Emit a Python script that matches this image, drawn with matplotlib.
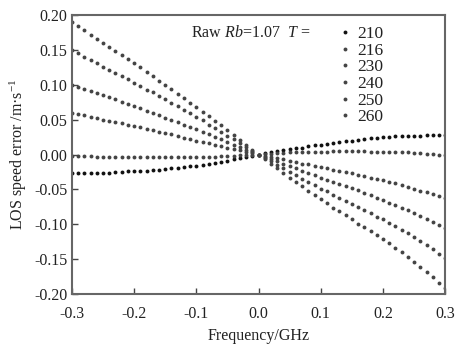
import numpy as np
import matplotlib
matplotlib.use("Agg")
import matplotlib.pyplot as plt
from matplotlib.ticker import FormatStrFormatter

plt.rcParams['font.family'] = ['Liberation Serif', 'DejaVu Serif']
plt.rcParams['mathtext.fontset'] = 'custom'
plt.rcParams['mathtext.rm'] = 'Liberation Serif'
plt.rcParams['mathtext.it'] = 'Liberation Serif:italic'
plt.rcParams['axes.unicode_minus'] = False

# frequency grid, -0.30 ... 0.30 GHz in 0.01 steps
freq = np.linspace(-0.3, 0.3, 61)

temps = ['210', '216', '230', '240', '250', '260']

err_210 = [-0.027, -0.027, -0.027, -0.027, -0.026, -0.026, -0.026, -0.025, -0.025, -0.024,
           -0.024, -0.023, -0.023, -0.022, -0.022, -0.021, -0.020, -0.019, -0.018, -0.017,
           -0.016, -0.015, -0.013, -0.012, -0.011, -0.009, -0.007, -0.005, -0.004, -0.002,
           0.000,
           0.002, 0.003, 0.005, 0.006, 0.008, 0.009, 0.010, 0.012, 0.013, 0.014,
           0.015, 0.017, 0.018, 0.019, 0.020, 0.021, 0.022, 0.023, 0.024, 0.025,
           0.025, 0.026, 0.026, 0.027, 0.027, 0.027, 0.028, 0.028, 0.028, 0.028]

err_216 = [-0.002, -0.002, -0.002, -0.002, -0.003, -0.003, -0.003, -0.003, -0.003, -0.003,
           -0.003, -0.003, -0.003, -0.003, -0.003, -0.003, -0.003, -0.003, -0.003, -0.003,
           -0.003, -0.003, -0.003, -0.003, -0.002, -0.002, -0.002, -0.001, -0.001, -0.001,
           0.000,
           0.001, 0.001, 0.002, 0.002, 0.003, 0.003, 0.003, 0.004, 0.004, 0.004,
           0.004, 0.005, 0.005, 0.005, 0.005, 0.005, 0.005, 0.004, 0.004, 0.004,
           0.004, 0.003, 0.003, 0.003, 0.002, 0.002, 0.001, 0.001, 0.000, -0.001]

err_230 = [0.060, 0.058, 0.056, 0.054, 0.052, 0.050, 0.048, 0.046, 0.045, 0.043,
           0.041, 0.039, 0.037, 0.035, 0.033, 0.031, 0.029, 0.027, 0.024, 0.022,
           0.020, 0.018, 0.016, 0.014, 0.012, 0.010, 0.008, 0.006, 0.004, 0.002,
           0.000,
           -0.002, -0.004, -0.005, -0.007, -0.009, -0.011, -0.013, -0.014, -0.016, -0.018,
           -0.020, -0.022, -0.023, -0.025, -0.027, -0.029, -0.031, -0.033, -0.035, -0.037,
           -0.039, -0.041, -0.044, -0.046, -0.049, -0.052, -0.054, -0.057, -0.060, -0.063]

err_240 = [0.100, 0.097, 0.094, 0.091, 0.088, 0.085, 0.082, 0.079, 0.075, 0.072,
           0.069, 0.066, 0.063, 0.059, 0.056, 0.053, 0.050, 0.046, 0.043, 0.039,
           0.036, 0.032, 0.029, 0.025, 0.022, 0.018, 0.014, 0.011, 0.007, 0.004,
           0.000,
           -0.003, -0.007, -0.010, -0.014, -0.017, -0.020, -0.023, -0.027, -0.030, -0.033,
           -0.036, -0.039, -0.042, -0.045, -0.048, -0.051, -0.055, -0.058, -0.062, -0.065,
           -0.069, -0.072, -0.076, -0.080, -0.084, -0.088, -0.092, -0.097, -0.101, -0.106]

err_250 = [0.150, 0.145, 0.140, 0.136, 0.131, 0.126, 0.121, 0.117, 0.112, 0.108,
           0.103, 0.098, 0.093, 0.089, 0.084, 0.079, 0.074, 0.069, 0.064, 0.059,
           0.054, 0.049, 0.043, 0.038, 0.032, 0.027, 0.022, 0.016, 0.011, 0.005,
           0.000,
           -0.005, -0.010, -0.015, -0.020, -0.025, -0.030, -0.035, -0.040, -0.044, -0.049,
           -0.053, -0.058, -0.062, -0.067, -0.071, -0.075, -0.080, -0.084, -0.089, -0.093,
           -0.098, -0.103, -0.108, -0.113, -0.118, -0.124, -0.130, -0.136, -0.142, -0.148]

err_260 = [0.190, 0.184, 0.178, 0.172, 0.166, 0.160, 0.154, 0.148, 0.143, 0.137,
           0.131, 0.125, 0.119, 0.112, 0.106, 0.100, 0.094, 0.087, 0.081, 0.074,
           0.068, 0.061, 0.055, 0.048, 0.042, 0.035, 0.028, 0.021, 0.014, 0.007,
           0.000,
           -0.007, -0.013, -0.020, -0.026, -0.033, -0.039, -0.045, -0.052, -0.058, -0.064,
           -0.070, -0.076, -0.081, -0.087, -0.093, -0.099, -0.104, -0.110, -0.115, -0.121,
           -0.127, -0.134, -0.140, -0.147, -0.154, -0.161, -0.169, -0.176, -0.184, -0.192]

series = [err_210, err_216, err_230, err_240, err_250, err_260]
colors = ['#111111', '#444444', '#444444', '#444444', '#444444', '#444444']

fig = plt.figure(figsize=(4.58, 3.5), dpi=100)
ax = fig.add_axes([0.157, 0.16, 0.815, 0.797])

for t, vals, c in zip(temps, series, colors):
    ax.plot(freq, vals, linestyle='none', marker='o', markersize=2.8,
            markeredgewidth=0, color=c, label=t)

ax.set_xlim(-0.3, 0.3)
ax.set_ylim(-0.2, 0.2)
ax.set_xticks([-0.3, -0.2, -0.1, 0.0, 0.1, 0.2, 0.3])
ax.set_yticks([-0.20, -0.15, -0.10, -0.05, 0.00, 0.05, 0.10, 0.15, 0.20])
ax.xaxis.set_major_formatter(FormatStrFormatter('%.1f'))
ax.yaxis.set_major_formatter(FormatStrFormatter('%.2f'))
ax.tick_params(direction='in', length=4, width=1, colors='#444444',
               labelcolor='#222222', labelsize=11.5)
ax.tick_params(axis='x', pad=9)
ax.tick_params(axis='y', pad=3)
for s in ax.spines.values():
    s.set_color('#666666')
    s.set_linewidth(1.5)

ax.set_xlabel('Frequency/GHz', fontsize=11.5, color='#222222', labelpad=4)
ax.set_ylabel('LOS speed error /m·s$^{-1}$', fontsize=11.5, color='#222222', labelpad=4)

ax.text(0.32, 0.935, r'Raw $\mathit{Rb}$=1.07  $\mathit{T}$ =', transform=ax.transAxes,
        fontsize=11.5, color='#222222', va='center', ha='left')

ax.legend(loc='upper left', bbox_to_anchor=(0.68, 1.005), frameon=False,
          fontsize=12.5, handlelength=0.8, handletextpad=0.3,
          labelspacing=0.03, borderpad=0.2, markerscale=1.0, labelcolor='#222222')

fig.savefig('out.png', dpi=100)
